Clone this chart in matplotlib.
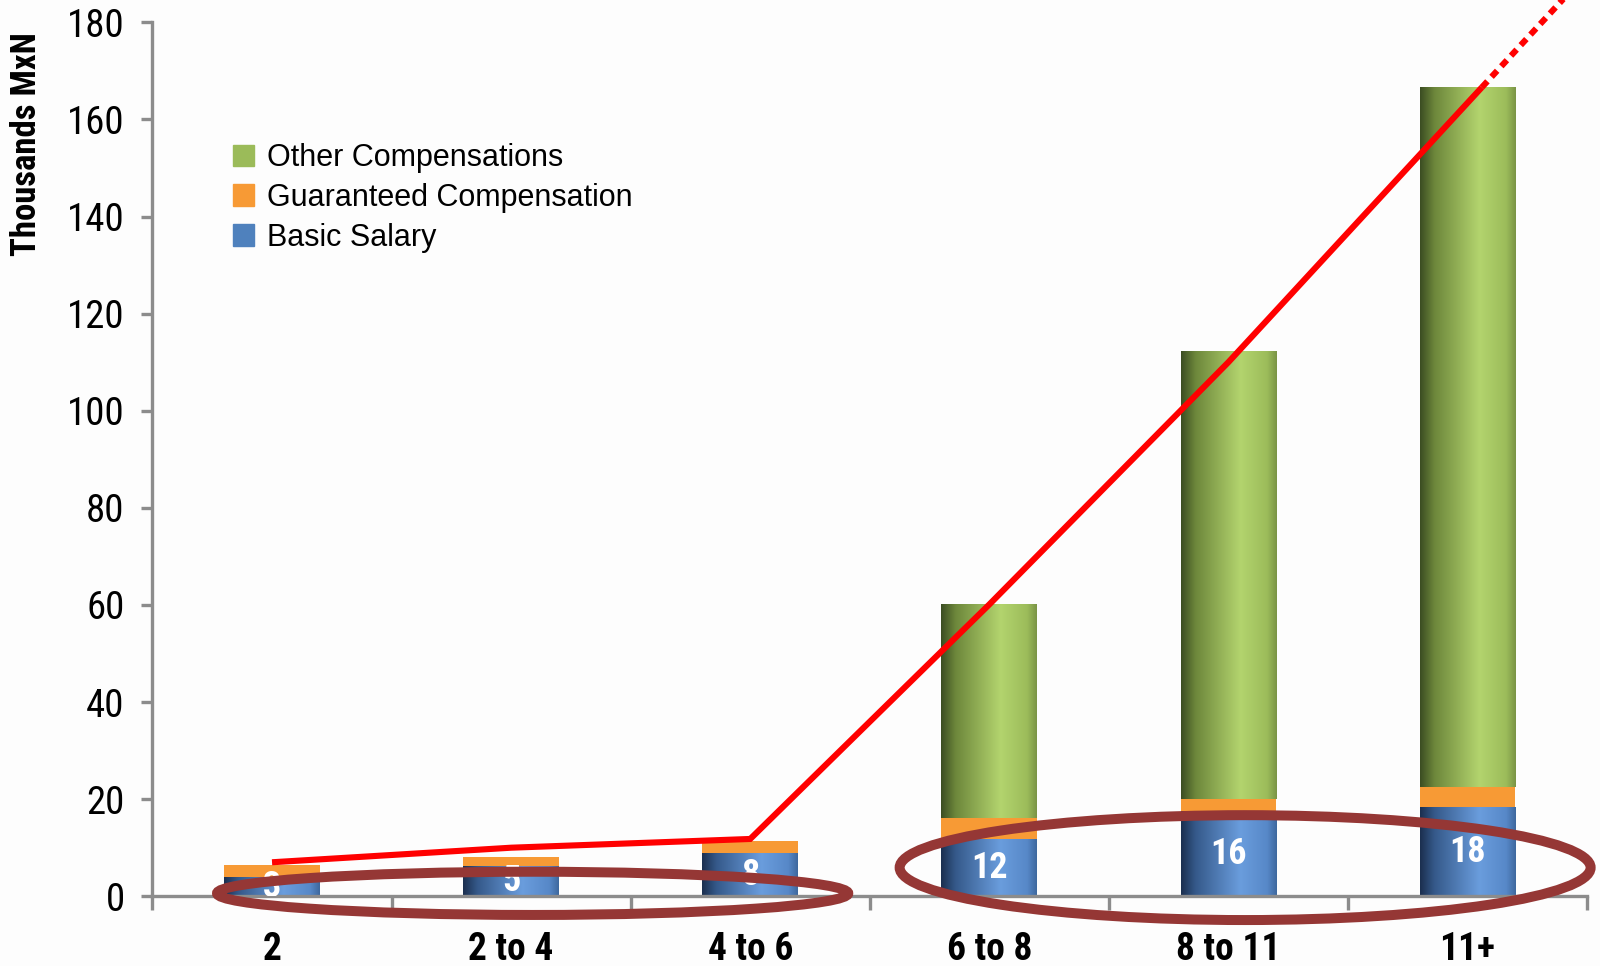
"""Compensation by level — stacked cylinder bars with trend line"""
import os
import numpy as np
import matplotlib
matplotlib.use("Agg")
import matplotlib.pyplot as plt
from matplotlib import font_manager as fm
from matplotlib.colors import LinearSegmentedColormap
from matplotlib.patches import Ellipse, Patch

categories   = ["2", "2 to 4", "4 to 6", "6 to 8", "8 to 11", "11+"]
basic_salary = [4.0, 6.2, 8.9, 11.8, 17.6, 18.3]
guaranteed   = [2.4, 1.8, 2.4, 4.4, 2.4, 4.3]
other_comp   = [0.0, 0.0, 0.0, 43.9, 92.4, 144.0]
basic_labels = ["3", "5", "8", "12", "16", "18"]
trend        = [7.0, 10.0, 11.8, 60.1, 110.0, 163.4]
yticks       = [0, 20, 40, 60, 80, 100, 120, 140, 160, 180]

GREEN  = "#9bbb59"
ORANGE = "#f79a35"
BLUE   = "#4f81bd"
RING   = "#953735"
AXIS   = "#8c8c8c"
BG     = "#fdfdfd"


def _narrow_file(bold):
    """look for an installed narrow / condensed sans face"""
    prefs = ["LiberationSansNarrow", "RobotoCondensed", "OpenSansCondensed",
             "NotoSans-Condensed", "DejaVuSansCondensed"]
    skip = ("Italic", "Oblique", "Semi", "Extra", "Light", "Medium", "Black", "Thin")
    files = sorted({f.fname for f in fm.fontManager.ttflist})
    for p in prefs:
        for fn in files:
            base = os.path.basename(fn).replace(" ", "")
            if not base.startswith(p) or any(s in base for s in skip):
                continue
            if ("Bold" in base) == bold:
                return fn
    return None


def narrow(size, bold=False):
    fn = _narrow_file(bold)
    if fn:
        return fm.FontProperties(fname=fn, size=size)
    return fm.FontProperties(family=["Liberation Sans", "DejaVu Sans"], size=size * 0.82,
                             weight="bold" if bold else "normal")


green_cmap = LinearSegmentedColormap.from_list(
    "g", [(0, "#3b4d22"), (0.15, "#6d873b"), (0.62, "#b3d46e"),
          (0.9, "#9cbc5a"), (1, "#7a9446")])
blue_cmap = LinearSegmentedColormap.from_list(
    "b", [(0, "#1b2f4f"), (0.15, "#35598a"), (0.62, "#6a9ddd"),
          (0.9, "#5788c8"), (1, "#3e689e")])

fig = plt.figure(figsize=(16, 9.66), dpi=100)
fig.patch.set_facecolor(BG)
ax = fig.add_axes([0.0953, 0.0722, 0.8966, 0.9047])
ax.set_facecolor(BG)

x = np.arange(len(categories))
basic = np.array(basic_salary)
guar = np.array(guaranteed)
other = np.array(other_comp)
total = basic + guar + other
w = 0.40

b_basic = ax.bar(x, basic, w, color=BLUE, lw=0, zorder=2)
ax.bar(x, guar, w, bottom=basic, color=ORANGE, lw=0, zorder=2)
b_other = ax.bar(x, other, w, bottom=basic + guar, color=GREEN, lw=0, zorder=2)

# cylinder shading: horizontal gradient clipped to each bar
grad = np.linspace(0, 1, 256).reshape(1, -1)
for bars, cmap in ((b_basic, blue_cmap), (b_other, green_cmap)):
    for r in bars:
        if r.get_height() <= 0:
            continue
        x0, y0 = r.get_x(), r.get_y()
        im = ax.imshow(grad, cmap=cmap, aspect="auto", zorder=2.5,
                       extent=(x0, x0 + r.get_width(), y0, y0 + r.get_height()))
        im.set_clip_path(r)

# value labels inside the basic salary segment
for xi, b, lab in zip(x, basic, basic_labels):
    t = ax.text(xi, b / 2, lab, ha="center", va="center", color="white",
                fontproperties=narrow(26, bold=True), zorder=3)
    t.set_clip_on(True)

# trend line, solid up to the top of the last bar then dotted
slope = trend[-1] - trend[-2]
x_top = x[-1] + (total[-1] - trend[-1]) / slope
ax.plot(list(x) + [x_top], trend + [total[-1]], color="#ff0000", lw=4.4,
        solid_capstyle="butt", solid_joinstyle="miter", zorder=4, clip_on=False)
x_end = x_top + 0.42
ax.plot([x_top, x_end], [total[-1], total[-1] + slope * (x_end - x_top)],
        color="#ff0000", lw=4.4, ls=(0, (1.35, 1.0)), dash_capstyle="butt",
        zorder=4, clip_on=False)

# highlight rings
for cx, cy, ew, eh in ((1.09, 0.6, 2.64, 8.9), (4.07, 5.9, 2.89, 21.6)):
    ax.add_patch(Ellipse((cx, cy), ew, eh, fill=False, ec=RING, lw=7.2,
                         zorder=5, clip_on=False))

ax.set_xlim(-0.5, 5.5)
ax.set_ylim(0, 180)
for s in ("top", "right"):
    ax.spines[s].set_visible(False)
for s in ("left", "bottom"):
    ax.spines[s].set_color(AXIS)
    ax.spines[s].set_linewidth(2.4)

ax.set_yticks(yticks)
ax.set_yticklabels([str(v) for v in yticks], fontproperties=narrow(28))
ax.tick_params(axis="y", length=8, width=2.4, color=AXIS, pad=12)
ax.set_xticks(x)
ax.set_xticklabels(categories, fontproperties=narrow(27, bold=True))
ax.set_xticks(np.arange(-0.5, 6, 1), minor=True)
ax.tick_params(axis="x", which="major", length=0, pad=25)
ax.tick_params(axis="x", which="minor", length=10, width=2.4, color=AXIS)

fig.text(27 / 1600, 0.851, "Thousands MxN", rotation=90, ha="center",
         va="center", fontproperties=narrow(25, bold=True))

handles = [Patch(color=GREEN), Patch(color=ORANGE), Patch(color=BLUE)]
ax.legend(handles, ["Other Compensations", "Guaranteed Compensation", "Basic Salary"],
          loc="upper left", bbox_to_anchor=(233 / 1600, 1 - 143 / 966),
          bbox_transform=fig.transFigure, frameon=False, borderpad=0,
          borderaxespad=0, handlelength=0.7, handleheight=0.7,
          handletextpad=0.4, labelspacing=0.32,
          prop={"family": ["Liberation Sans", "DejaVu Sans"], "size": 22})

fig.savefig("out.png", dpi=100, facecolor=fig.get_facecolor())
